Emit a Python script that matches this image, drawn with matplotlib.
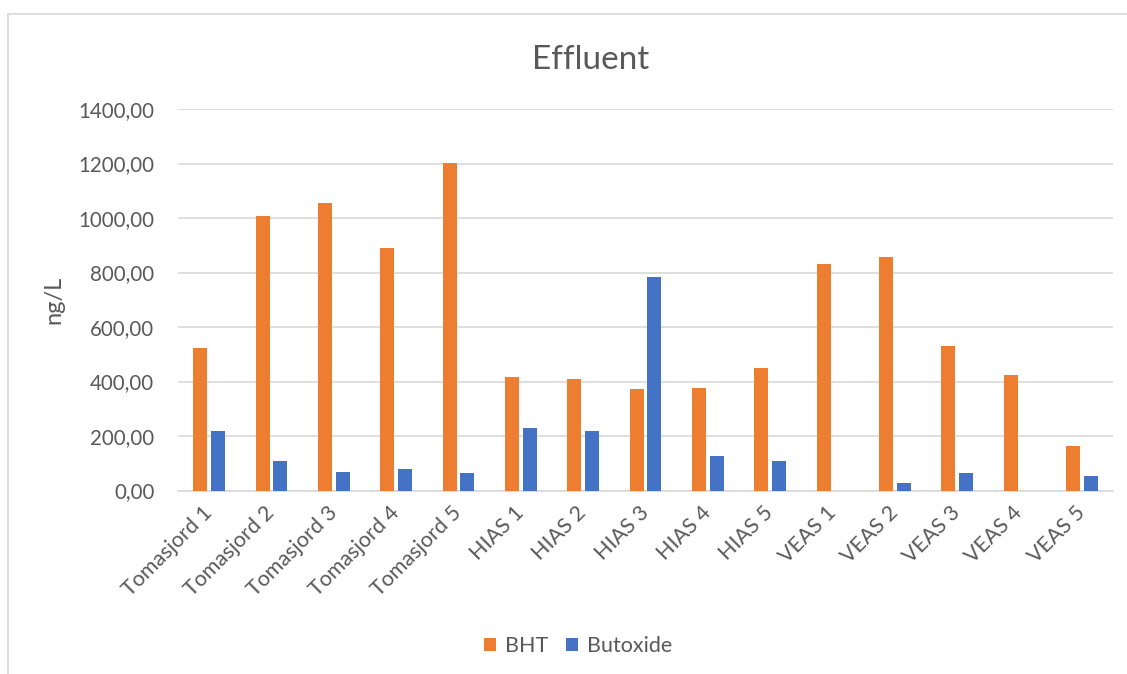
import numpy as np
import matplotlib
matplotlib.use("Agg")
import matplotlib.pyplot as plt
from matplotlib.patches import Rectangle

# Data
sites = ["Tomasjord 1", "Tomasjord 2", "Tomasjord 3", "Tomasjord 4", "Tomasjord 5",
         "HIAS 1", "HIAS 2", "HIAS 3", "HIAS 4", "HIAS 5",
         "VEAS 1", "VEAS 2", "VEAS 3", "VEAS 4", "VEAS 5"]
bht = [522, 1007, 1054, 890, 1201,
       417, 410, 372, 377, 449,
       831, 857, 530, 423, 163]
butoxide = [219, 109, 68, 80, 65,
            231, 218, 783, 126, 108,
            0, 26, 66, 0, 54]
y_ticks = [0, 200, 400, 600, 800, 1000, 1200, 1400]

ORANGE = "#ED7D31"
BLUE = "#4472C4"
GREY_TEXT = "#595959"
GRID = "#D9D9D9"

plt.rcParams['font.family'] = ['Lato', 'DejaVu Sans']

fig = plt.figure(figsize=(11.27, 6.74), dpi=100)

# light chart-area frame (left/top edges visible, rest clipped)
fig.patches.append(Rectangle((8 / 1127, -0.1), 1.2, (674 - 14) / 674 + 0.1,
                             transform=fig.transFigure, fill=False,
                             edgecolor="#D9D9D9", linewidth=1.2))

ax = fig.add_axes([178 / 1127, 1 - 490.5 / 674, (1113 - 178) / 1127, (490.5 - 109) / 674])

x = np.arange(len(sites))
bar_w = 0.225
offset = 0.143
ax.bar(x - offset, bht, width=bar_w, color=ORANGE, label="BHT", zorder=3)
ax.bar(x + offset, butoxide, width=bar_w, color=BLUE, label="Butoxide", zorder=3)

ax.set_xlim(-0.5, len(sites) - 0.5)
ax.set_ylim(0, 1400)
ax.set_yticks(y_ticks)
ax.set_yticklabels([f"{v:.2f}".replace(".", ",") for v in y_ticks])
ax.set_xticks(x)
ax.set_xticklabels(sites, rotation=45, ha="right", va="center", rotation_mode="anchor")

ax.grid(axis="y", color=GRID, linewidth=1.2, zorder=0)
for side in ["top", "right", "left"]:
    ax.spines[side].set_visible(False)
ax.spines["bottom"].set_color(GRID)
ax.spines["bottom"].set_linewidth(1.2)

ax.tick_params(axis="y", length=0, pad=17, labelsize=14.8, labelcolor=GREY_TEXT)
ax.tick_params(axis="x", length=0, pad=14, labelsize=15.5, labelcolor=GREY_TEXT)

ax.set_ylabel("ng/L", fontsize=17, color=GREY_TEXT, labelpad=10)

fig.text(591 / 1127, 1 - 60 / 674, "Effluent", ha="center", va="center",
         fontsize=24, color=GREY_TEXT)

fig.legend(loc="center", bbox_to_anchor=(578 / 1127, 1 - 646 / 674), ncol=2,
           frameon=False, fontsize=15.5, handlelength=0.55, handleheight=0.55,
           columnspacing=0.85, handletextpad=0.4, labelcolor=GREY_TEXT)

fig.savefig("out.png", dpi=100)
